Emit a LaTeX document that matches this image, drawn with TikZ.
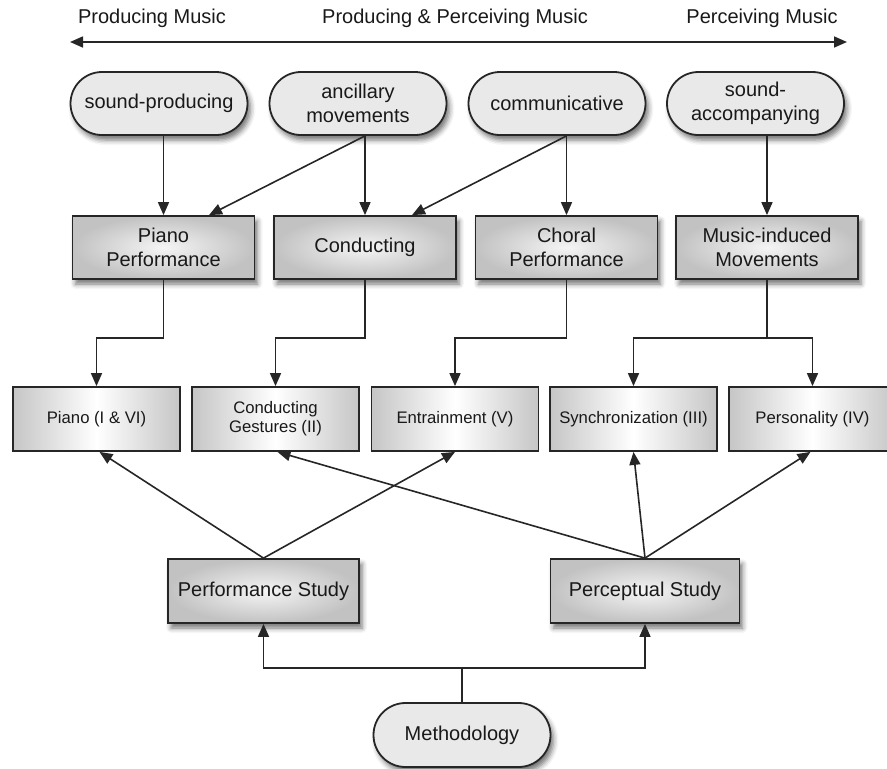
\documentclass[tikz,border=0pt]{standalone}
\usepackage{fontspec}
\setmainfont{Liberation Sans}
\usetikzlibrary{arrows.meta,shapes.misc,shadows.blur,calc}
\begin{document}
\begin{tikzpicture}[x=1pt,y=-1pt,
  font=\fontsize{20}{24}\selectfont,
  lbl/.style={text=black!90, inner sep=0pt},
  arr/.style={draw=black!85, line width=1.6pt, -{Triangle[length=13pt,width=11pt]}},
  ln/.style={draw=black!85, line width=1.6pt},
  shd/.style={blur shadow={shadow xshift=3pt, shadow yshift=-5pt, shadow opacity=55, shadow blur radius=5pt}},
  pill/.style={rounded rectangle, draw=black!85, line width=1.8pt, fill=gray!17,
    minimum width=181pt, minimum height=63pt, align=center, text=black!90, inner sep=2pt, shd},
  mbox/.style={rectangle, draw=black!85, line width=1.8pt, inner color=gray!8, outer color=gray!48,
    minimum width=182pt, minimum height=63pt, align=center, text=black!90, shd},
  sbox/.style={rectangle, draw=black!85, line width=1.8pt, left color=gray!45, right color=gray!45, middle color=white,
    minimum width=167pt, minimum height=64pt, align=center, text=black!90,
    font=\fontsize{16.7}{19}\selectfont}
]
\useasboundingbox (0,0) rectangle (887,769);

% top scale
\coordinate (L) at (70,42);
\coordinate (R) at (847,42);
\draw[ln, {Triangle[length=13pt,width=11pt]}-{Triangle[length=13pt,width=11pt]}] (L) -- (R);
\node[lbl] (t1) at (152,18) {Producing Music};
\node[lbl] (t2) at (455,18) {Producing \& Perceiving Music};
\node[lbl] (t3) at (762,18) {Perceiving Music};

% row 1
\node[pill] (sp)  at (159,103.5) {sound-producing};
\node[pill] (anc) at (358,103.5) {ancillary\\movements};
\node[pill] (com) at (557,103.5) {communicative};
\node[pill] (sa)  at (755.5,103.5) {sound-\\accompanying};

% row 2
\node[mbox] (pp)   at (163.5,247.5) {Piano\\Performance};
\node[mbox] (cond) at (365,247.5) {Conducting};
\node[mbox] (chor) at (566.5,247.5) {Choral\\Performance};
\node[mbox] (mim)  at (767,247.5) {Music-induced\\Movements};

% row 3
\node[sbox] (ra) at (96.5,419) {Piano (I \& VI)};
\node[sbox] (rb) at (275.5,419) {Conducting\\Gestures (II)};
\node[sbox] (rc) at (455,419) {Entrainment (V)};
\node[sbox] (rd) at (633.5,419) {Synchronization (III)};
\node[sbox] (re) at (812.5,419) {Personality (IV)};

% row 4
\node[mbox, minimum width=191pt, minimum height=64pt] (ps)  at (263.5,591) {Performance Study};
\node[mbox, minimum width=189pt, minimum height=64pt] (pcs) at (645,591) {Perceptual Study};

% methodology
\node[pill, minimum height=64pt] (meth) at (462,735) {Methodology};

% row1 -> row2
\draw[arr] (sp.south -| pp.north) -- (pp.north);
\draw[arr] (anc.south -| cond.north) -- ($(pp.north)+(45.5,0)$);
\draw[arr] (anc.south -| cond.north) -- (cond.north);
\draw[arr] (com.south -| chor.north) -- ($(cond.north)+(47,0)$);
\draw[arr] (com.south -| chor.north) -- (chor.north);
\draw[arr] (sa.south -| mim.north) -- (mim.north);

% row2 -> row3
\coordinate (h) at (0,338);
\draw[arr] (pp.south) -- (pp.south |- h) -| (ra.north);
\draw[arr] (cond.south) -- (cond.south |- h) -| (rb.north);
\draw[arr] (chor.south) -- (chor.south |- h) -| (rc.north);
\draw[arr] (mim.south) -- (mim.south |- h) -| (rd.north);
\draw[arr] (mim.south |- h) -| (re.north);

% row4 -> row3
\draw[arr] (ps.north) -- ($(ra.south)+(3,0)$);
\draw[arr] (ps.north) -- (rc.south);
\draw[arr] (pcs.north) -- ($(rb.south)+(2,0)$);
\draw[arr] (pcs.north) -- (rd.south);
\draw[arr] (pcs.north) -- ($(re.south)+(-2,0)$);

% methodology -> row4
\coordinate (h2) at (0,668);
\draw[arr] (meth.north) -- (meth.north |- h2) -| (ps.south);
\draw[arr] (meth.north |- h2) -| (pcs.south);
\end{tikzpicture}
\end{document}
